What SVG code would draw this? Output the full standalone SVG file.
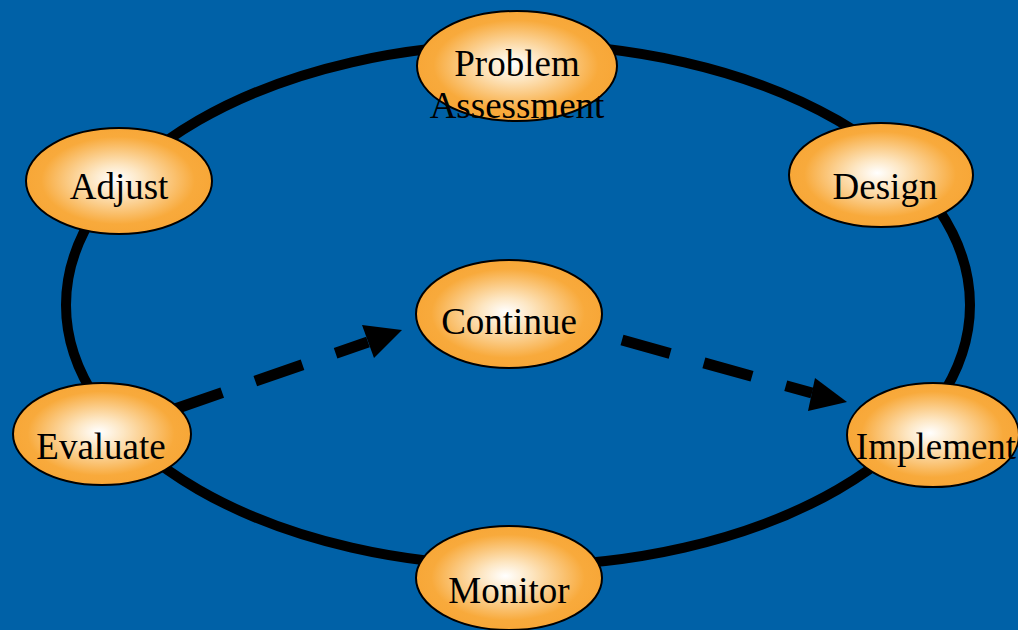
<svg xmlns="http://www.w3.org/2000/svg" width="1018" height="630" viewBox="0 0 1018 630">
<defs>
<radialGradient id="g" cx="0.5" cy="0.5" r="0.55" fx="0.48" fy="0.48">
<stop offset="0" stop-color="#ffffff"/>
<stop offset="0.25" stop-color="#fde6c2"/>
<stop offset="0.75" stop-color="#f8aa3c"/>
<stop offset="1" stop-color="#f7a535"/>
</radialGradient>
<style>
.n{fill:url(#g);stroke:#000;stroke-width:2}
.t{font-family:"Liberation Serif","Times New Roman",serif;font-size:37px;fill:#000;text-anchor:middle}
.c{fill:none;stroke:#000;stroke-width:10}
.d{fill:none;stroke:#000;stroke-width:11;stroke-dasharray:50 35}
</style>
</defs>
<rect width="1018" height="630" fill="#0061a7"/>
<g id="connectors">
<ellipse class="c" cx="518" cy="305" rx="452" ry="261"/>
<line class="d" x1="175" y1="409" x2="368" y2="342"/>
<polygon points="402,330 362,325 374,358"/>
<line class="d" x1="622" y1="340" x2="812" y2="393"/>
<polygon points="847,402 815,378 808,411"/>
</g>
<g id="problem"><ellipse class="n" cx="517" cy="66" rx="100" ry="55"/><text class="t" x="517" y="76">Problem</text><text class="t" x="517" y="118">Assessment</text></g>
<g id="adjust"><ellipse class="n" cx="119" cy="181" rx="93" ry="53"/><text class="t" x="119" y="199">Adjust</text></g>
<g id="design"><ellipse class="n" cx="881" cy="175" rx="92" ry="52"/><text class="t" x="885" y="199">Design</text></g>
<g id="continue"><ellipse class="n" cx="509" cy="314" rx="93" ry="54"/><text class="t" x="509" y="334">Continue</text></g>
<g id="evaluate"><ellipse class="n" cx="102" cy="434" rx="89" ry="51"/><text class="t" x="101" y="459">Evaluate</text></g>
<g id="implement"><ellipse class="n" cx="933" cy="435" rx="86" ry="52"/><text class="t" x="936" y="459">Implement</text></g>
<g id="monitor"><ellipse class="n" cx="509" cy="578" rx="93" ry="52"/><text class="t" x="509" y="603">Monitor</text></g>
</svg>
